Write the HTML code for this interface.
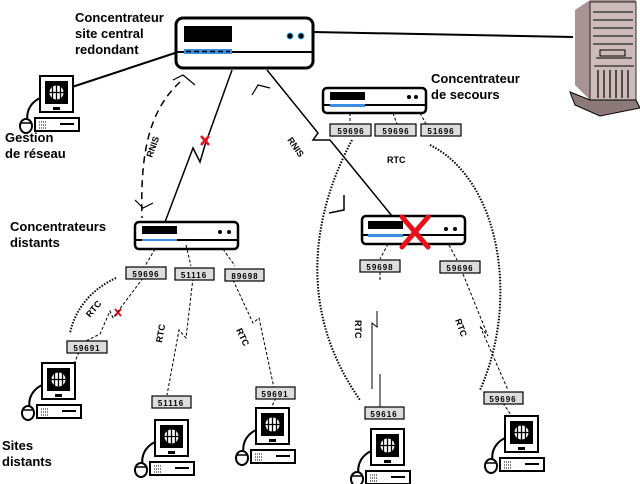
<!DOCTYPE html>
<html><head><meta charset="utf-8"><style>
html,body{margin:0;padding:0;background:#fff;width:640px;height:484px;overflow:hidden}
svg{display:block}
text{font-family:"Liberation Sans",sans-serif;font-weight:bold;fill:#000}
</style></head><body>
<svg width="640" height="484" viewBox="0 0 640 484" xmlns="http://www.w3.org/2000/svg">
<defs>
<g id="pc">
  <path d="M-10,52 C-16,40 -12,28 0,22" fill="none" stroke="#000" stroke-width="2"/>
  <ellipse cx="-14" cy="50" rx="6" ry="7" fill="#fff" stroke="#000" stroke-width="2"/>
  <line x1="-20" y1="47" x2="-8" y2="47" stroke="#000" stroke-width="1.5"/>
  <rect x="0" y="0" width="33" height="36" fill="#fff" stroke="#000" stroke-width="2"/>
  <rect x="5" y="5" width="23" height="23" fill="#000"/>
  <circle cx="16.5" cy="16.5" r="7" fill="#fff"/>
  <path d="M16.5,9.5V23.5M9.5,16.5H23.5M12.5,10.5V22.5M20.5,10.5V22.5" stroke="#000" stroke-width="1.3"/>
  <rect x="13" y="31" width="7" height="3" fill="#000"/>
  <rect x="-5" y="42" width="44" height="13" fill="#fff" stroke="#000" stroke-width="2"/>
  <path d="M-1,46h8M-1,49h8M-1,52h8" stroke="#000" stroke-width="1" stroke-dasharray="1 1"/>
  <rect x="20" y="47" width="14" height="2" fill="#000"/>
</g>
</defs>

<line x1="313" y1="32" x2="573" y2="37" stroke="#000" stroke-width="2"/>
<line x1="72" y1="87" x2="175" y2="53" stroke="#000" stroke-width="2"/>
<polyline points="232,70 205,145 200,162 193,148 165,222" fill="none" stroke="#000" stroke-width="1.5"/>
<path d="M180,82 C150,110 140,150 142,218" fill="none" stroke="#000" stroke-width="1.5" stroke-dasharray="7 5"/>
<path d="M173,80 l10,-5 l12,10 M135,200 l8,8 l10,-5" fill="none" stroke="#000" stroke-width="1.2"/>
<polyline points="267,70 318,133 313,140 330,140 392,216" fill="none" stroke="#000" stroke-width="1.5"/>
<path d="M252,95 l6,-10 l12,3" fill="none" stroke="#000" stroke-width="1.2"/>
<path d="M344,195 v15 l-15,3" fill="none" stroke="#000" stroke-width="1.5"/>

<polygon points="575,10 590,0 636,0 636,100 590,100 575,85" fill="#a89494"/>
<rect x="590" y="2" width="46" height="98" fill="#cdbaba" stroke="#000" stroke-width="0.8"/>
<path d="M593,12h40M593,20h40M593,28h40M593,36h40M593,44h40M600,50h25v6h-25zM596,58h36M594,66h40" stroke="#000" stroke-width="1" fill="none"/>
<path d="M598,70v28M604,70v28M610,70v28M616,70v28M622,70v28M628,70v28" stroke="#000" stroke-width="1.2"/>
<polygon points="570,92 590,100 636,100 640,108 600,116 575,105" fill="#8c7a7a" stroke="#000" stroke-width="1"/>

<rect x="176" y="18" width="137" height="50" rx="7" fill="#fff" stroke="#000" stroke-width="3"/>
<line x1="176" y1="52" x2="313" y2="52" stroke="#000" stroke-width="2"/>
<rect x="184" y="26" width="48" height="16" fill="#000"/>
<rect x="184" y="49" width="48" height="5" fill="#3c8ee0"/>
<path d="M186,51.5h44" stroke="#000" stroke-width="1.5" stroke-dasharray="5 3"/>
<circle cx="290" cy="36" r="3" fill="#000" stroke="#3cb0f0"/>
<circle cx="301" cy="36" r="3" fill="#000" stroke="#3cb0f0"/>

<rect x="323" y="88" width="103" height="25" rx="4" fill="#fff" stroke="#000" stroke-width="2.5"/>
<line x1="323" y1="105" x2="426" y2="105" stroke="#000" stroke-width="2"/>
<rect x="330" y="92" width="35" height="8" fill="#000"/>
<rect x="330" y="104" width="35" height="3" fill="#3c8ee0"/>
<circle cx="409" cy="97" r="2" fill="#000"/><circle cx="416" cy="97" r="2" fill="#000"/>

<rect x="135" y="222" width="103" height="27" rx="4" fill="#fff" stroke="#000" stroke-width="2.5"/>
<line x1="135" y1="240" x2="238" y2="240" stroke="#000" stroke-width="2"/>
<rect x="142" y="226" width="35" height="8" fill="#000"/>
<rect x="142" y="239" width="35" height="2" fill="#3c8ee0"/>
<circle cx="220" cy="232" r="2" fill="#000"/><circle cx="229" cy="232" r="2" fill="#000"/>

<rect x="362" y="216" width="103" height="28" rx="4" fill="#fff" stroke="#000" stroke-width="2.5"/>
<line x1="362" y1="235" x2="465" y2="235" stroke="#000" stroke-width="2"/>
<rect x="368" y="221" width="35" height="8" fill="#000"/>
<rect x="368" y="234" width="35" height="3" fill="#3c8ee0"/>
<circle cx="446" cy="229" r="2" fill="#000"/><circle cx="455" cy="229" r="2" fill="#000"/>
<path d="M402,217 L428,247 M428,217 L402,247" stroke="#e8101a" stroke-width="5" stroke-linecap="round"/>

<path d="M201,136 l8,9 M209,136 l-8,9" stroke="#e8101a" stroke-width="2.5"/>
<path d="M115,309 l6,7 M121,309 l-6,7" stroke="#e8101a" stroke-width="2"/>

<g fill="none" stroke="#000" stroke-width="1" stroke-dasharray="3 2">
<path d="M350,113v11 M393,113 l4,11 M420,113 l6,11"/>
<path d="M155,249 l-10,17 M186,245 l5,21 M223,249 l12,17"/>
<path d="M143,278 l-30,40 l-3,-7 l-10,23 l-20,10"/>
<path d="M193,278 l-7,60 l-7,-8 l-12,65"/>
<path d="M233,280 l20,43 l6,-5 l15,70"/>
<path d="M388,244 l-8,15 M449,245 l8,15"/>
<path d="M380,272 v10"/>
<path d="M463,274 l25,62 l-8,-10 l28,64"/>
<path d="M79,352 l-5,12 M276,398 l-5,10 M503,403 l8,12"/>
</g>
<g fill="none" stroke="#000" stroke-width="2" stroke-dasharray="1.5 1.5">
<path d="M352,140 C320,200 290,300 360,400"/>
<path d="M430,145 C500,180 520,300 480,390"/>
<path d="M116,278 C90,290 75,310 70,333"/>
</g>
<path d="M377,311 v16 l-5,-4 v66 M380,374 v33" fill="none" stroke="#000" stroke-width="1"/>

<g fill="#ddd" stroke="#000" stroke-width="1.2">
<rect x="330" y="124" width="41" height="12"/><rect x="375" y="124" width="41" height="12"/><rect x="421" y="124" width="40" height="12"/>
<rect x="126" y="267" width="40" height="12"/><rect x="175" y="268" width="39" height="12"/><rect x="225" y="269" width="39" height="12"/>
<rect x="360" y="260" width="40" height="12"/><rect x="440" y="261" width="40" height="12"/>
<rect x="67" y="341" width="40" height="12"/><rect x="152" y="396" width="39" height="12"/><rect x="256" y="387" width="39" height="12"/>
<rect x="365" y="407" width="39" height="12"/><rect x="484" y="392" width="39" height="12"/>
</g>
<g font-size="8" text-anchor="middle" style="letter-spacing:1px">
<text x="351" y="134">59696</text><text x="396" y="134">59696</text><text x="441" y="134">51696</text>
<text x="146" y="277">59696</text><text x="194" y="278">51116</text><text x="245" y="279">89698</text>
<text x="380" y="270">59698</text><text x="460" y="271">59696</text>
<text x="87" y="351">59691</text><text x="171" y="406">51116</text><text x="275" y="397">59691</text>
<text x="384" y="417">59616</text><text x="503" y="402">59696</text>
</g>

<use href="#pc" x="40" y="76"/>
<use href="#pc" x="42" y="363"/>
<use href="#pc" x="155" y="420"/>
<use href="#pc" x="256" y="408"/>
<use href="#pc" x="371" y="429"/>
<use href="#pc" x="505" y="416"/>

<g font-size="13">
<text x="75" y="22">Concentrateur</text>
<text x="75" y="38">site central</text>
<text x="75" y="54">redondant</text>
<text x="431" y="83">Concentrateur</text>
<text x="431" y="99">de secours</text>
<text x="5" y="142">Gestion</text>
<text x="5" y="158">de réseau</text>
<text x="10" y="231">Concentrateurs</text>
<text x="10" y="247">distants</text>
<text x="2" y="450">Sites</text>
<text x="2" y="466">distants</text>
</g>
<g font-size="9">
<text transform="translate(152,158) rotate(-70)">RNIS</text>
<text transform="translate(287,140) rotate(55)">RNIS</text>
<text x="387" y="163">RTC</text>
<text transform="translate(90,318) rotate(-50)">RTC</text>
<text transform="translate(162,343) rotate(-80)">RTC</text>
<text transform="translate(236,330) rotate(65)">RTC</text>
<text transform="translate(355,320) rotate(90)">RTC</text>
<text transform="translate(455,320) rotate(70)">RTC</text>
</g>
</svg>
</body></html>
